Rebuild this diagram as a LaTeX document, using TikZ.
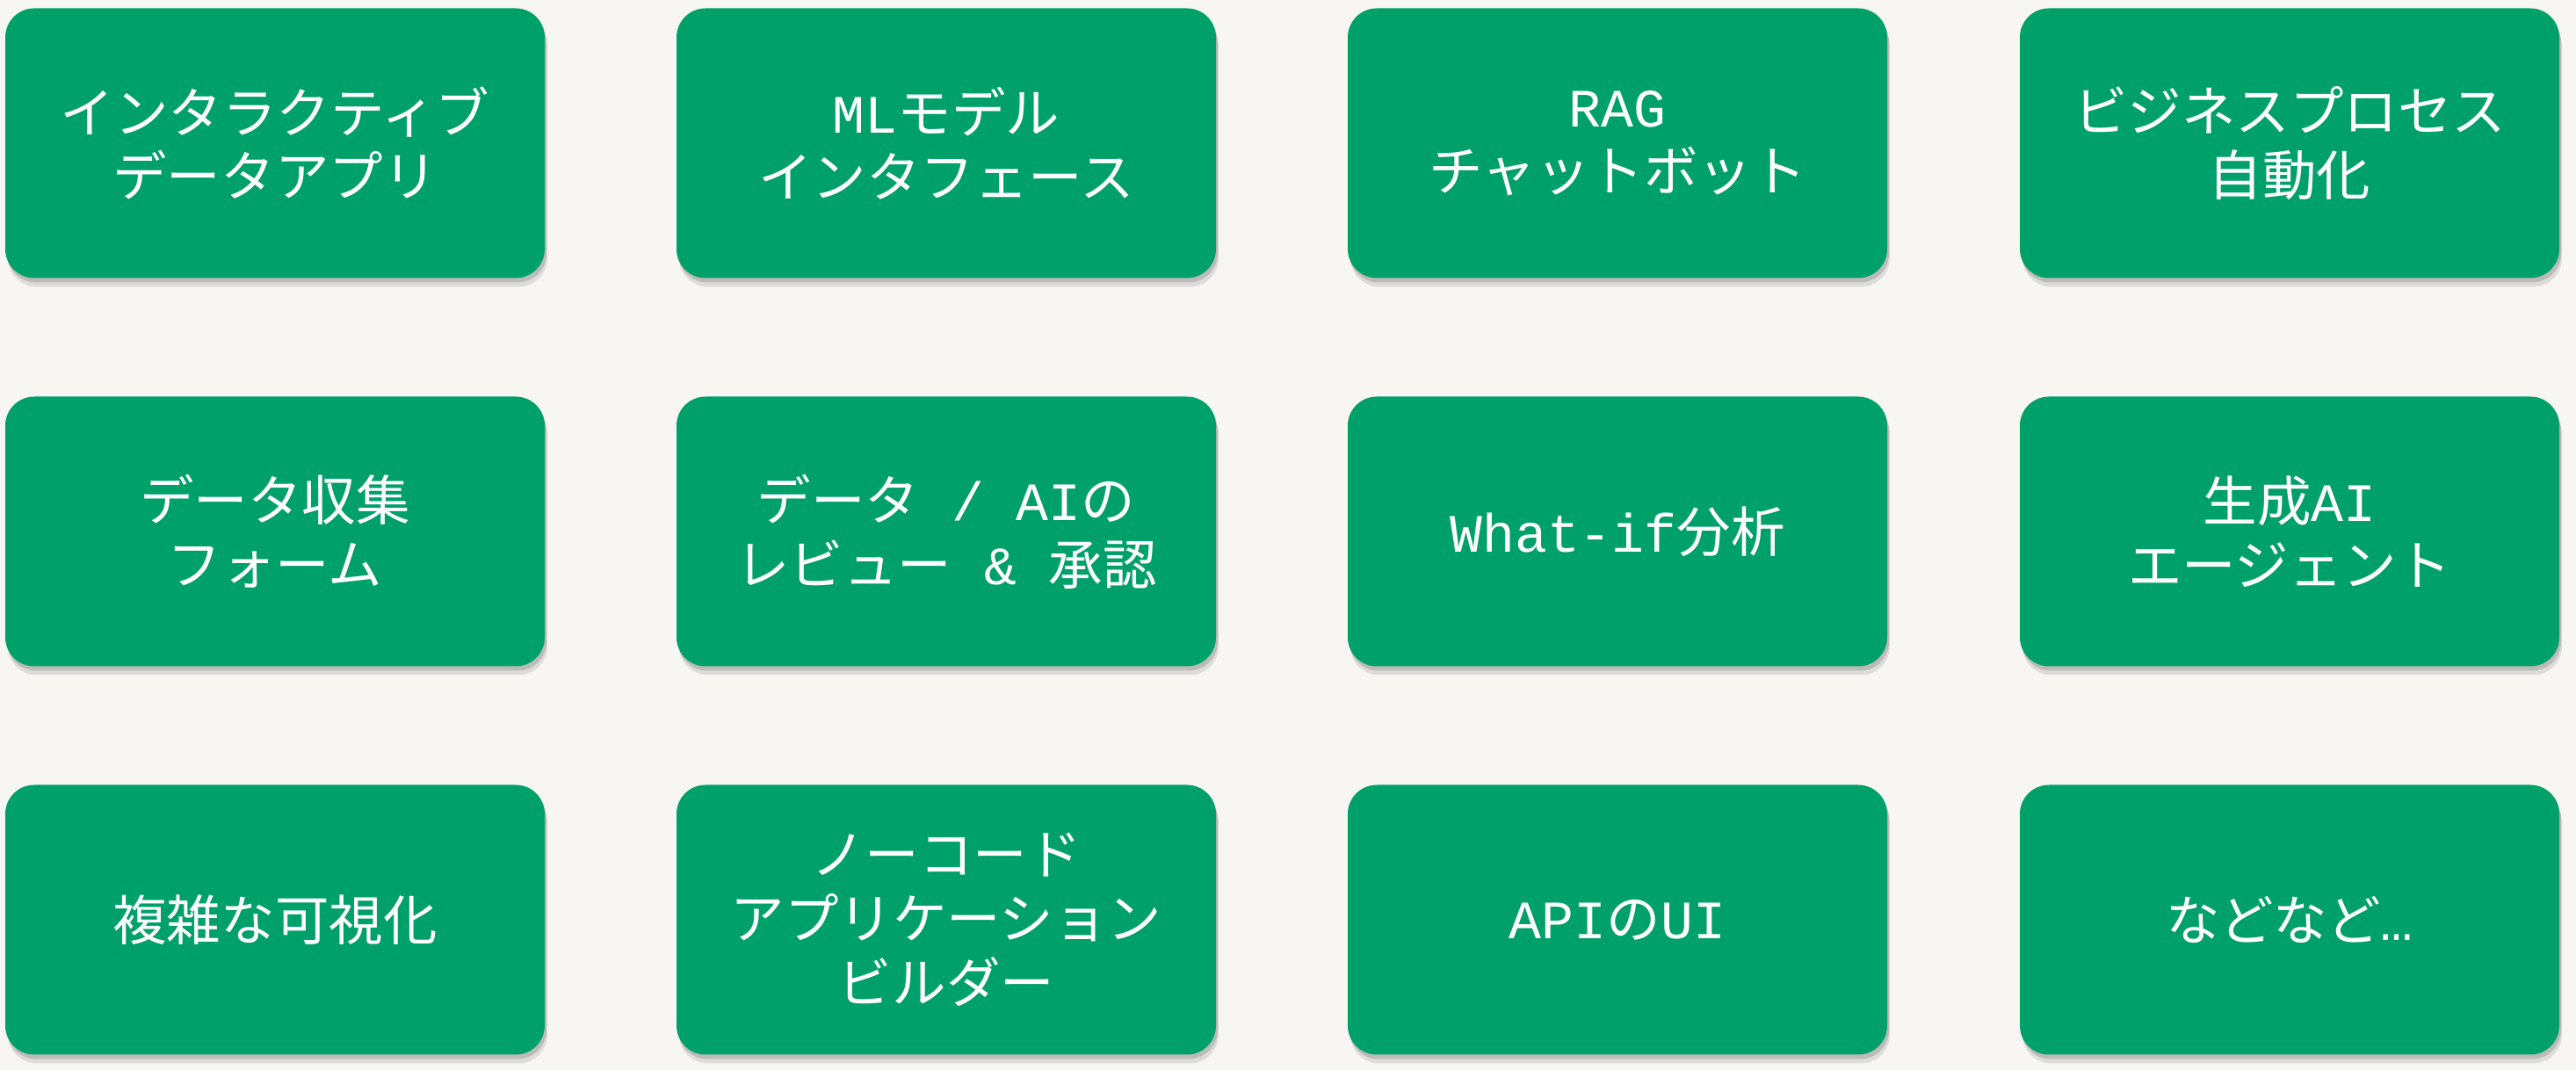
\documentclass[tikz,border=0pt]{standalone}
\usepackage{fontspec}
\setmainfont{Noto Sans CJK JP}
\newfontfamily\lat{Liberation Mono}
\usetikzlibrary{shadows}
\definecolor{cardgreen}{HTML}{00A06A}
\definecolor{paper}{HTML}{F7F6F3}
\newcommand{\en}[1]{{\lat #1}}

\begin{document}
\begin{tikzpicture}[
		card/.style={fill=cardgreen, text=white, rounded corners=0.33cm,
				minimum width=6.14cm, minimum height=3.07cm, inner sep=0pt,
				align=center, font=\fontsize{17.5}{20.7}\selectfont,
				drop shadow={shadow xshift=0.3mm, shadow yshift=-1.0mm,
						opacity=0.10, fill=black},
				drop shadow={shadow xshift=0.2mm, shadow yshift=-0.5mm,
						opacity=0.15, fill=black}},
	]
	% canvas
	\fill[paper] (0,0) rectangle (29.32,12.18);
	\useasboundingbox (0,0) rectangle (29.32,12.18);

	% first row
	\node[card] (interactive) at (3.13,10.55) {インタラクティブ\\データアプリ};
	\node[card] (mlui) at (10.77,10.55) {\en{ML}モデル\\インタフェース};
	\node[card] (rag) at (18.41,10.55) {\en{RAG}\\チャットボット};
	\node[card] (bpa) at (26.06,10.55) {ビジネスプロセス\\自動化};

	% second row
	\node[card] (forms) at (3.13,6.13) {データ収集\\フォーム};
	\node[card] (review) at (10.77,6.13) {データ\en{ / AI}の\\レビュー\en{ \& }承認};
	\node[card] (whatif) at (18.41,6.13) {\en{What-if}分析};
	\node[card] (agent) at (26.06,6.13) {生成\en{AI}\\エージェント};

	% third row
	\node[card] (viz) at (3.13,1.71) {複雑な可視化};
	\node[card] (nocode) at (10.77,1.71) {ノーコード\\アプリケーション\\ビルダー};
	\node[card] (apiui) at (18.41,1.71) {\en{API}の\en{UI}};
	\node[card] (etc) at (26.06,1.71) {などなど\en{…}};
\end{tikzpicture}
\end{document}
